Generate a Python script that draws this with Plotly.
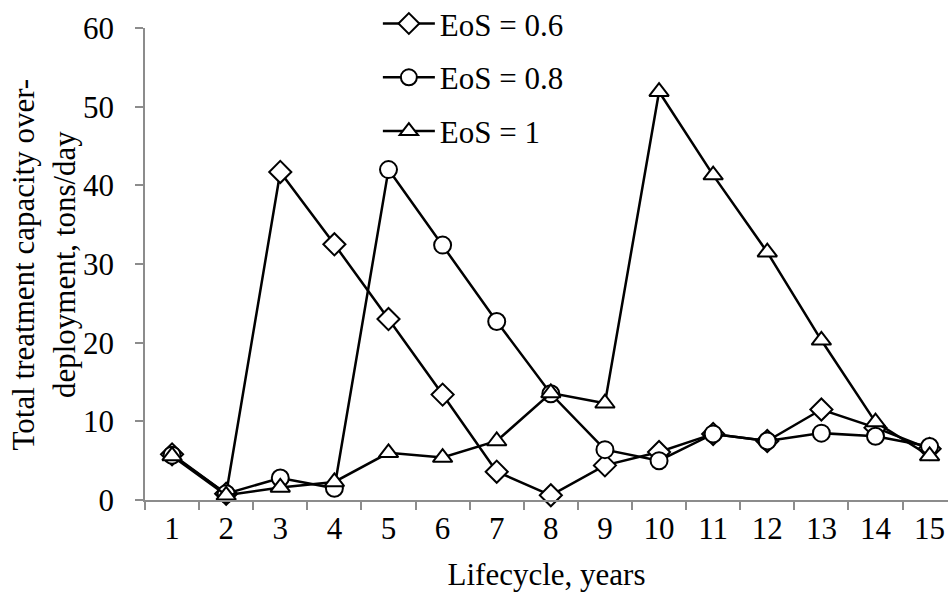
import plotly.graph_objects as go

years = ["1", "2", "3", "4", "5", "6", "7", "8", "9", "10", "11", "12", "13", "14", "15"]
eos_06 = [5.8, 0.8, 41.7, 32.5, 23.0, 13.4, 3.6, 0.6, 4.4, 6.1, 8.4, 7.5, 11.5, 9.2, 6.5]
eos_08 = [5.7, 0.8, 2.8, 1.5, 42.0, 32.4, 22.7, 13.5, 6.4, 5.0, 8.4, 7.5, 8.5, 8.1, 6.8]
eos_10 = [5.6, 0.6, 1.6, 2.3, 6.0, 5.4, 7.5, 13.6, 12.3, 51.9, 41.3, 31.5, 20.3, 9.9, 5.6]
series_names = ["EoS = 0.6", "EoS = 0.8", "EoS = 1"]
y_ticks = [0, 10, 20, 30, 40, 50, 60]
y_title = "Total treatment capacity over-<br>deployment, tons/day"
x_title = "Lifecycle, years"

FONT = "Liberation Serif"
GRAY = "#8c8c8c"
FS = 31

fig = go.Figure()
symbols = ["diamond", "circle", "triangle-up"]
for i, (name, vals) in enumerate(zip(series_names, [eos_06, eos_08, eos_10])):
    fig.add_trace(go.Scatter(
        x=years, y=vals, name=name, mode="lines+markers",
        line=dict(color="black", width=2.5),
        marker=dict(symbol=symbols[i], size=17, color="white",
                    line=dict(color="black", width=2)),
        legendgroup=f"g{i}",
        cliponaxis=False,
    ))

fig.update_layout(
    width=948, height=601,
    margin=dict(l=145, r=0, t=28, b=101, autoexpand=False),
    paper_bgcolor="white", plot_bgcolor="white",
    font=dict(family=FONT, size=FS, color="black"),
    showlegend=True,
    legend=dict(x=0.29, y=1.066, xanchor="left", yanchor="top",
                bgcolor="rgba(0,0,0,0)", font=dict(size=FS),
                tracegroupgap=10.5, itemwidth=52),
    xaxis=dict(
        type="category", range=[-0.5, 14.34], tickson="boundaries",
        automargin=True,
        showline=True, linecolor=GRAY, linewidth=1.5,
        ticks="outside", ticklen=8, tickcolor=GRAY, tickwidth=1.5,
        showgrid=False, zeroline=False,
        title=dict(text=x_title, standoff=18, font=dict(size=FS)),
        tickfont=dict(size=FS),
    ),
    yaxis=dict(
        range=[0, 60], tickvals=y_ticks, automargin=True,
        showline=True, linecolor=GRAY, linewidth=1.5,
        ticks="outside", ticklen=8, tickcolor=GRAY, tickwidth=1.5,
        showgrid=False, zeroline=False,
        ticklabelstandoff=15,
        tickfont=dict(size=FS),
    ),
    annotations=[dict(
        text=y_title, xref="paper", yref="paper", x=-0.1265, y=0.5,
        xanchor="center", yanchor="middle", textangle=-90, showarrow=False,
        font=dict(size=FS, family=FONT, color="#000000"),
    )],
)

fig.write_html(
    "out.html",
    config={"displayModeBar": False},
    post_script="document.body.style.margin='0';document.body.style.overflow='hidden';",
)
